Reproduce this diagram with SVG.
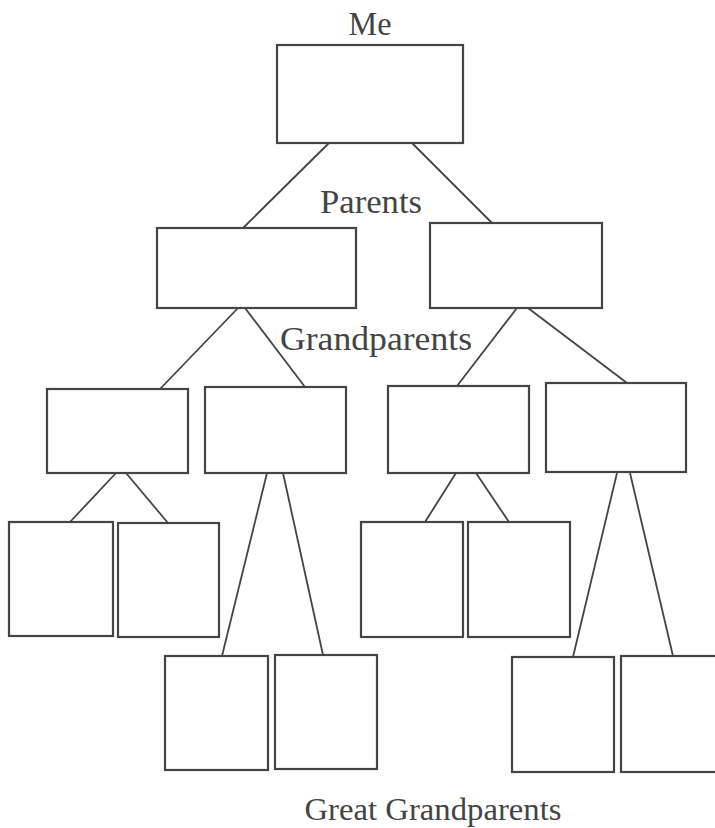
<svg xmlns="http://www.w3.org/2000/svg" width="715" height="828" viewBox="0 0 715 828">
<style>
.box{fill:#fff;stroke:#444;stroke-width:2.2}
.ln{stroke:#444;stroke-width:1.8;fill:none}
.lbl{font-family:"Liberation Serif","Times New Roman",serif;font-size:33px;fill:#444;text-anchor:middle}
</style>
<rect width="715" height="828" fill="#fff"/>
<g id="connectors">
<line class="ln" x1="329" y1="143" x2="243" y2="228"/>
<line class="ln" x1="412" y1="143" x2="492" y2="223"/>
<line class="ln" x1="238" y1="308" x2="160" y2="389"/>
<line class="ln" x1="245" y1="308" x2="305" y2="387"/>
<line class="ln" x1="517" y1="308" x2="457" y2="386"/>
<line class="ln" x1="528" y1="308" x2="627" y2="383"/>
<line class="ln" x1="116" y1="473" x2="70" y2="522"/>
<line class="ln" x1="126" y1="473" x2="168" y2="523"/>
<line class="ln" x1="267" y1="473" x2="222" y2="656"/>
<line class="ln" x1="283" y1="473" x2="323" y2="655"/>
<line class="ln" x1="456" y1="473" x2="425" y2="522"/>
<line class="ln" x1="476" y1="473" x2="509" y2="522"/>
<line class="ln" x1="617" y1="473" x2="573" y2="657"/>
<line class="ln" x1="630" y1="473" x2="673" y2="656"/>
</g>
<g id="me"><rect class="box" x="277" y="45" width="186" height="98"/><text class="lbl" x="370" y="35" textLength="43" lengthAdjust="spacingAndGlyphs">Me</text></g>
<g id="parents-label"><text class="lbl" x="371" y="213" textLength="102" lengthAdjust="spacingAndGlyphs">Parents</text></g>
<g id="parent-left"><rect class="box" x="157" y="228" width="199" height="80"/></g>
<g id="parent-right"><rect class="box" x="430" y="223" width="172" height="85"/></g>
<g id="grandparents-label"><text class="lbl" x="376" y="350" textLength="192" lengthAdjust="spacingAndGlyphs">Grandparents</text></g>
<g id="gp1"><rect class="box" x="47" y="389" width="141" height="84"/></g>
<g id="gp2"><rect class="box" x="205" y="387" width="141" height="86"/></g>
<g id="gp3"><rect class="box" x="388" y="386" width="141" height="87"/></g>
<g id="gp4"><rect class="box" x="546" y="383" width="140" height="89"/></g>
<g id="ggp1"><rect class="box" x="9" y="522" width="104" height="114"/></g>
<g id="ggp2"><rect class="box" x="118" y="523" width="101" height="114"/></g>
<g id="ggp3"><rect class="box" x="165" y="656" width="103" height="114"/></g>
<g id="ggp4"><rect class="box" x="275" y="655" width="102" height="114"/></g>
<g id="ggp5"><rect class="box" x="361" y="522" width="102" height="115"/></g>
<g id="ggp6"><rect class="box" x="468" y="522" width="102" height="115"/></g>
<g id="ggp7"><rect class="box" x="512" y="657" width="102" height="115"/></g>
<g id="ggp8"><rect class="box" x="621" y="656" width="102" height="116"/></g>
<g id="great-grandparents-label"><text class="lbl" x="433" y="820" style="font-size:31px" textLength="257" lengthAdjust="spacingAndGlyphs">Great Grandparents</text></g>
</svg>
